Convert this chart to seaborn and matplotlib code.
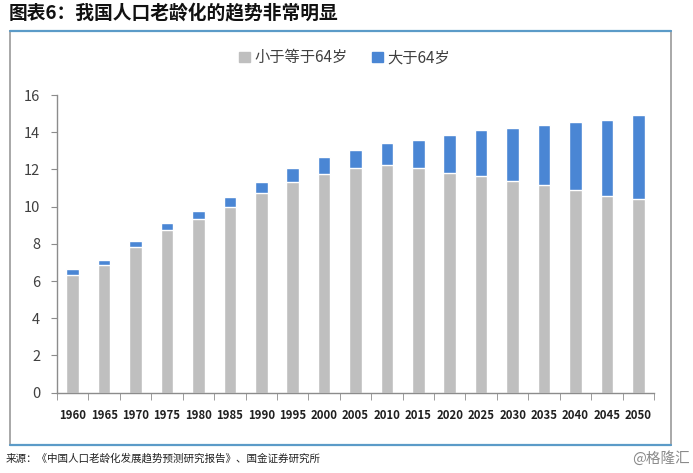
import numpy as np
import pandas as pd
import matplotlib
matplotlib.use("Agg")
import matplotlib.pyplot as plt
from matplotlib.lines import Line2D
from matplotlib.patches import Rectangle
import seaborn as sns

sns.set_style("white")
plt.rcParams['font.family'] = ['Noto Sans CJK SC', 'DejaVu Sans']

years = ["1960", "1965", "1970", "1975", "1980", "1985", "1990", "1995", "2000", "2005",
         "2010", "2015", "2020", "2025", "2030", "2035", "2040", "2045", "2050"]
# 小于等于64岁
under65 = [6.32, 6.85, 7.85, 8.74, 9.32, 9.97, 10.74, 11.34, 11.77, 12.06,
           12.24, 12.06, 11.81, 11.67, 11.40, 11.15, 10.88, 10.59, 10.41]
# 大于64岁
over64 = [0.33, 0.27, 0.30, 0.38, 0.46, 0.55, 0.60, 0.72, 0.89, 0.97,
          1.17, 1.51, 2.03, 2.45, 2.81, 3.24, 3.66, 4.09, 4.52]

gray = "#BFBFBF"
blue = "#4A86D4"

df = pd.DataFrame({"year": years, "under": under65, "over": over64})
df["total"] = df["under"] + df["over"]

fig = plt.figure(figsize=(6.93, 4.73), dpi=100)

# outer frame
fig.patches.append(Rectangle((0.0144, 0.0592), 0.9536, 0.8753, transform=fig.transFigure,
                             fill=False, edgecolor="#9a9a9a", linewidth=1.2))
fig.lines.append(Line2D([0.0144, 0.968], [0.9345, 0.9345], transform=fig.transFigure,
                        color="#5b9bc8", linewidth=1.6))
fig.lines.append(Line2D([0.0144, 0.968], [0.0592, 0.0592], transform=fig.transFigure,
                        color="#5b9bc8", linewidth=1.6))

ax = fig.add_axes([0.0823, 0.170, 0.8614, 0.629])

# stacked: total first (blue), then the lower part (gray) on top of it
sns.barplot(data=df, x="year", y="total", color=blue, width=0.4, saturation=1, ax=ax)
sns.barplot(data=df, x="year", y="under", color=gray, width=0.4, saturation=1, ax=ax)

ax.set_ylim(0, 16)
ax.set_xlim(-0.5, len(years) - 0.5)
ax.set_yticks(np.arange(0, 17, 2))
ax.set_xlabel("")
ax.set_ylabel("")

for s in ["top", "right"]:
    ax.spines[s].set_visible(False)
for s in ["left", "bottom"]:
    ax.spines[s].set_color("#8c8c8c")
    ax.spines[s].set_linewidth(1.0)

ax.tick_params(axis="y", which="major", length=4, color="#8c8c8c", labelsize=10.5,
               labelcolor="#404040", pad=8, direction="out", left=True)
ax.set_xticks(np.arange(-0.5, len(years), 1), minor=True)
ax.tick_params(axis="x", which="minor", length=5, color="#8c8c8c", direction="out", bottom=True)
ax.tick_params(axis="x", which="major", length=0, pad=12, labelsize=8.2, labelcolor="#202020")
for lab in ax.get_xticklabels():
    lab.set_fontweight("bold")

handles = [Rectangle((0, 0), 1, 1, color=gray), Rectangle((0, 0), 1, 1, color=blue)]
fig.legend(handles, ["小于等于64岁", "大于64岁"], loc="center", bbox_to_anchor=(0.497, 0.878),
           ncol=2, frameon=False, fontsize=11, handlelength=0.7, handleheight=0.7,
           handletextpad=0.3, columnspacing=1.6, labelcolor="#404040")

fig.text(0.012, 0.972, "图表6：我国人口老龄化的趋势非常明显", fontsize=13.5, fontweight="bold",
         fontstyle="italic", ha="left", va="center", color="#111111")
fig.text(0.008, 0.031, "来源：《中国人口老龄化发展趋势预测研究报告》、国金证券研究所", fontsize=7.6,
         ha="left", va="center", color="#222222")
fig.text(0.995, 0.031, "@格隆汇", fontsize=10.5, ha="right", va="center", color="#8a8a8a")

fig.savefig("out.png", dpi=100, facecolor="white")
